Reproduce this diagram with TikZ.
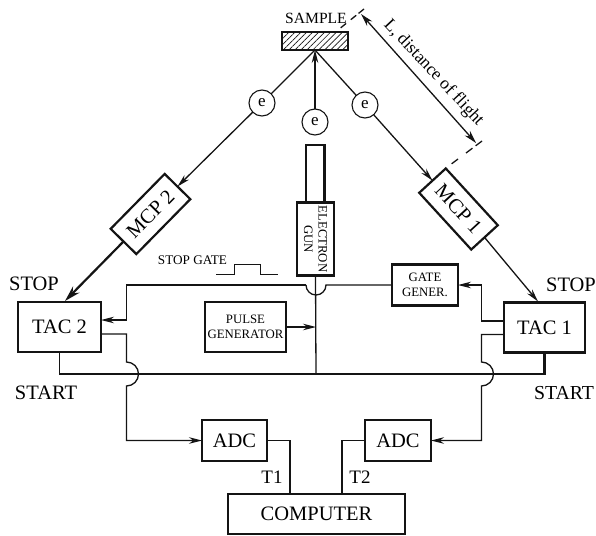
\documentclass[tikz,border=0pt]{standalone}
\usepackage{fontspec}
\setmainfont{Liberation Serif}
\usepackage{xcolor}
\definecolor{inkblack}{RGB}{20, 20, 20}
\usepackage{tikz}
\usetikzlibrary{arrows.meta, calc, patterns.meta}

\tikzset{
    boxbig/.style={draw=inkblack, line width=2.2pt, outer sep=0pt, inner sep=0pt, align=center, font=\fontsize{20.5}{22}\selectfont},
    boxsmall/.style={boxbig, font=\fontsize{12.8}{14.5}\selectfont},
    lbl/.style={inner sep=0pt, font=\fontsize{20.5}{22}\selectfont},
    ecircle/.style={draw=inkblack, circle, line width=1.1pt, fill=white, minimum size=26pt, inner sep=0pt, outer sep=0pt, font=\fontsize{17}{18}\selectfont},
    wire/.style={inkblack, line width=1.3pt},
    flow/.style={wire, -{Stealth[length=13pt, width=6.5pt]}}
}

\begin{document}
\begin{tikzpicture}[x=1pt, y=-1pt, >=Stealth]
    \useasboundingbox (0,0) rectangle (596,535);

    % sample and electron gun
    \node[boxbig, line width=2.6pt, minimum width=66pt, minimum height=18pt, pattern={Lines[angle=45, distance=4.2pt, line width=0.7pt]}, pattern color=inkblack] (sample) at (315,41) {};
    \node[lbl, font=\fontsize{15.6}{17}\selectfont] (samplelabel) at (316,18) {SAMPLE};
    \draw[boxbig] (306,202) rectangle (324.5,145);
    \node[boxsmall, rotate=-90, minimum width=73pt, minimum height=37pt] (gun) at (315.5,239) {ELECTRON\\GUN};

    \node[ecircle] (eleft) at (262,103) {e};
    \node[ecircle] (emid) at (315,122) {e};
    \node[ecircle] (eright) at (365,105) {e};

    \node[boxbig, rotate=45.5, minimum width=77pt, minimum height=36pt] (mcp2) at (150.5,214) {MCP 2};
    \node[boxbig, rotate=-47.5, minimum width=77pt, minimum height=36pt] (mcp1) at (458.5,209) {MCP 1};

    \node[boxbig, minimum width=83pt, minimum height=50pt] (tac2) at (59.5,327) {TAC 2};
    \node[boxbig, minimum width=81pt, minimum height=50pt] (tac1) at (544.5,327.5) {TAC 1};
    \node[boxsmall, minimum width=81pt, minimum height=50pt] (pulse) at (245.5,327) {PULSE\\GENERATOR};
    \node[boxsmall, minimum width=66pt, minimum height=41pt] (gate) at (425,285) {GATE\\GENER.};
    \node[boxbig, minimum width=65pt, minimum height=41pt] (adc2) at (234.5,440.5) {ADC};
    \node[boxbig, minimum width=66pt, minimum height=41pt] (adc1) at (398,440.5) {ADC};
    \node[boxbig, minimum width=177pt, minimum height=40pt] (computer) at (316.5,514) {COMPUTER};

    % labels
    \node[lbl] (stopl) at (34,284) {STOP};
    \node[lbl] (startl) at (46,393) {START};
    \node[lbl] (stopr) at (571,285) {STOP};
    \node[lbl, font=\fontsize{19.8}{22}\selectfont] (startr) at (564,393) {START};
    \node[lbl, font=\fontsize{19}{20}\selectfont] (tone) at (272,477) {T1};
    \node[lbl, font=\fontsize{19}{20}\selectfont] (ttwo) at (360,477) {T2};
    \node[lbl, font=\fontsize{13.2}{15}\selectfont] (gatelabel) at (192.5,260) {STOP GATE};
    \node[lbl, rotate=-47, font=\fontsize{17.5}{20}\selectfont] (distance) at (433.5,73) {L, distance of flight};

    % flight paths
    \draw[wire] (sample.south) -- (eleft);
    \draw[wire] (sample.south) -- (eright);
    \draw[flow] (eleft) -- (mcp2.east);
    \draw[flow] (eright) -- (mcp1.west);
    \draw[flow] (emid) -- (sample.south);
    \draw[flow, line width=2.2pt, -{Stealth[length=16pt, width=9pt]}] (mcp2.west) -- ($(tac2.north)+(5.5,-1)$);
    \draw[flow] (mcp1.east) -- ($(tac1.north)+(-6.5,-1)$);

    % distance marks
    \coordinate (markatop) at (364,9);
    \coordinate (markabot) at (338,30);
    \coordinate (markbtop) at (482,141);
    \coordinate (markbbot) at (450,165);
    \coordinate (lstart) at (361,14);
    \coordinate (lend) at (476,143);
    \draw[wire, dash pattern=on 7pt off 3pt on 7pt off 6pt on 7pt off 20pt] (markatop) -- (markabot);
    \draw[wire, dash pattern=on 8pt off 4pt on 8pt off 10pt] (markbtop) -- (markbbot);
    \draw[wire, {Stealth[length=13pt, width=7pt]}-{Stealth[length=13pt, width=7pt]}] (lstart) -- (lend);

    % stop gate
    \coordinate (pulsea) at (216,274);
    \coordinate (pulseb) at (278,274);
    \draw[wire, line width=1pt] (pulsea) -- (234,274) -- (234,264) -- (260,264) -- (260,274) -- (pulseb);
    \draw[flow] (306,285) -- (126.5,285) -- (126.5,320) -- ($(tac2.east)+(0,-7)$);
    \draw[wire] (306,285) arc[start angle=180, end angle=0, radius=10] -- (gate.west);
    \draw[flow] ($(tac1.west)+(0,-6.5)$) -- (481.5,321) -- (481.5,285) -- (gate.east);

    % start lines
    \draw[wire] (gun.east) -- (316,374);
    \draw[flow] (pulse.east) -- (316,327);
    \draw[wire] (tac2.south) -- (59.5,374) -- (544.5,374);
    \draw[wire, line width=2.2pt] (tac1.south) -- (544.5,375);

    \draw[flow] ($(tac2.east)+(0,7)$) -- (126.5,334) -- (126.5,362) arc[start angle=-90, end angle=90, radius=12] -- (126.5,440.5) -- (adc2.west);
    \draw[flow] ($(tac1.west)+(0,7)$) -- (481.5,334.5) -- (481.5,362) arc[start angle=-90, end angle=90, radius=12] -- (481.5,440.5) -- (adc1.east);

    % computer lines
    \draw[wire] (adc2.east) -- (290,440.5) -- (290,494);
    \draw[wire] (adc1.west) -- (342,440.5) -- (342,494);
\end{tikzpicture}
\end{document}
